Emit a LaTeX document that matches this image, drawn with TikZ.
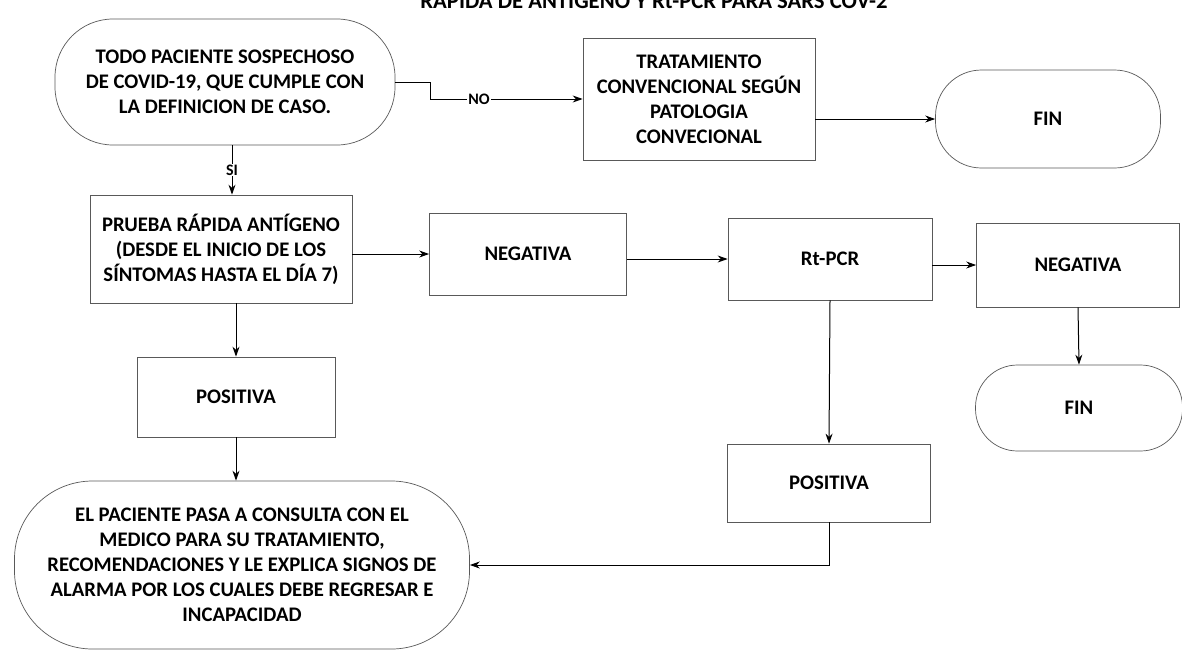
\documentclass[tikz,border=0pt]{standalone}
\usepackage{fontspec}
\setmainfont{Carlito}
\usetikzlibrary{arrows.meta}
\begin{document}
\begin{tikzpicture}[x=1pt,y=-1pt,
  txt/.style={font=\bfseries\fontsize{20.7}{25}\selectfont, align=center},
  box/.style={txt, draw=black!65, line width=0.7pt, inner sep=0pt},
  arr/.style={-{Stealth[length=10pt,width=7pt]}, line width=1pt},
  lbl/.style={font=\bfseries\fontsize{16}{18}\selectfont, fill=white, inner sep=1pt}]
\clip (0,0) rectangle (1182,654);
\fill[white] (0,0) rectangle (1182,654);
\node[txt, font=\bfseries\fontsize{22.7}{26}\selectfont, anchor=base] (title) at (654,8) {RÁPIDA DE ANTÍGENO Y Rt-PCR PARA SARS COV-2};
\node[box, minimum width=340pt, minimum height=126pt, rounded corners=58pt] (start) at (225,82)
  {TODO PACIENTE SOSPECHOSO\\DE COVID-19, QUE CUMPLE CON\\LA DEFINICION DE CASO.};
\node[box, minimum width=232pt, minimum height=122pt] (trat) at (699,99)
  {TRATAMIENTO\\CONVENCIONAL SEGÚN\\PATOLOGIA\\CONVECIONAL};
\node[box, minimum width=225pt, minimum height=98pt, rounded corners=46pt] (fin1) at (1048,119) {FIN};
\node[box, minimum width=262pt, minimum height=108pt] (prueba) at (221,249)
  {PRUEBA RÁPIDA ANTÍGENO\\(DESDE EL INICIO DE LOS\\SÍNTOMAS HASTA EL DÍA 7)};
\node[box, minimum width=197pt, minimum height=82pt] (neg1) at (528,254) {NEGATIVA};
\node[box, minimum width=204pt, minimum height=82pt] (rtpcr) at (830,259) {Rt-PCR};
\node[box, minimum width=203pt, minimum height=84pt] (neg2) at (1078,265) {NEGATIVA};
\node[box, minimum width=207pt, minimum height=86pt, rounded corners=42pt] (fin2) at (1079,408) {FIN};
\node[box, minimum width=198pt, minimum height=80pt] (pos1) at (236,397) {POSITIVA};
\node[box, minimum width=203pt, minimum height=78pt] (pos2) at (829,483) {POSITIVA};
\node[box, minimum width=455pt, minimum height=168pt, rounded corners=78pt] (consult) at (242,565)
  {EL PACIENTE PASA A CONSULTA CON EL\\MEDICO PARA SU TRATAMIENTO,\\RECOMENDACIONES Y LE EXPLICA SIGNOS DE\\ALARMA POR LOS CUALES DEBE REGRESAR E\\INCAPACIDAD};
\coordinate (sx) at (232,0);
\draw[arr] (start.east) -- ++(35,0) |- (trat.west) node[lbl, pos=0.66] {NO};
\draw[arr] (sx |- start.south) -- (sx |- prueba.north) node[lbl, midway] {SI};
\draw[arr] (trat.east |- fin1) -- (fin1.west);
\draw[arr] (prueba.east |- neg1) -- (neg1.west);
\draw[arr] (neg1.east |- rtpcr) -- (rtpcr.west);
\draw[arr] (rtpcr.east |- neg2) -- (neg2.west);
\draw[arr] (neg2.south) -- (fin2.north);
\draw[arr] (rtpcr.south) -- (pos2.north);
\draw[arr] (pos2.south) |- (consult.east);
\draw[arr] (pos1.north |- prueba.south) -- (pos1.north);
\draw[arr] (pos1.south) -- (pos1.south |- consult.north);
\end{tikzpicture}
\end{document}
